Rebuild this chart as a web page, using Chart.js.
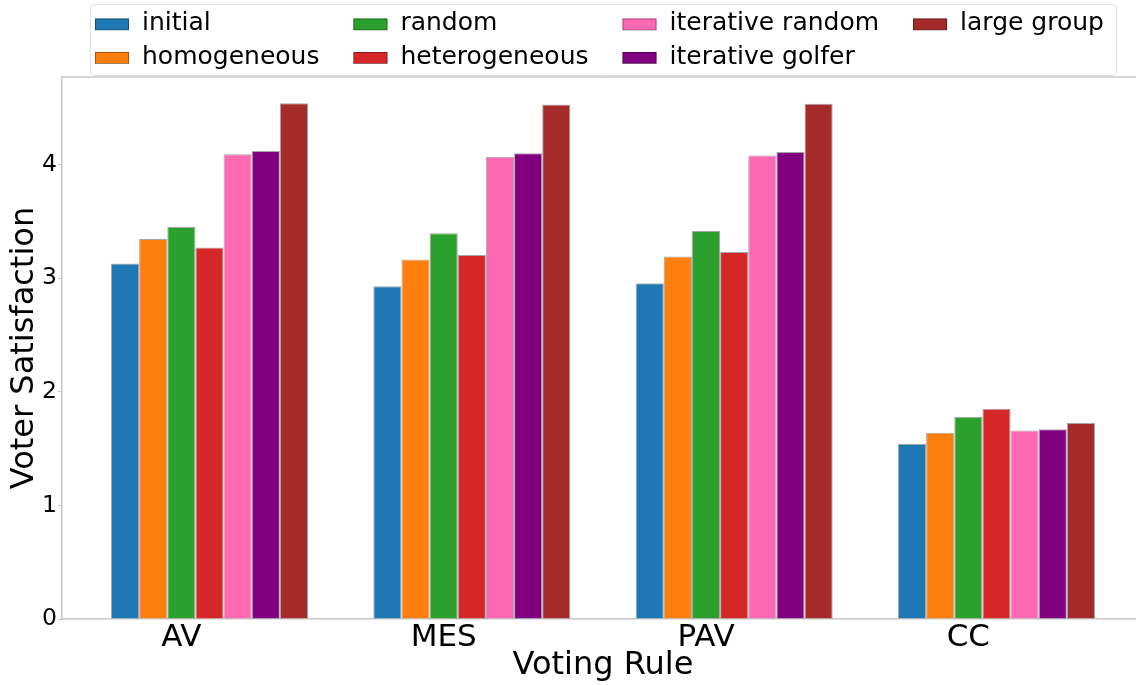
<!DOCTYPE html>
<html>
<head>
<meta charset="utf-8">
<script src="https://cdn.jsdelivr.net/npm/chart.js@4.4.0/dist/chart.umd.min.js"></script>
<style>
html, body { margin: 0; padding: 0; overflow: hidden; background: #fff; }
</style>
</head>
<body>
<canvas id="satisfactionChart" width="1144" height="685"></canvas>
<script>
// voting rules on the x axis
const categories = ['AV', 'MES', 'PAV', 'CC'];

// mean voter satisfaction per rule
const initial = [3.13, 2.93, 2.955, 1.54];
const homogeneous = [3.345, 3.165, 3.19, 1.64];
const random = [3.45, 3.395, 3.415, 1.78];
const heterogeneous = [3.27, 3.205, 3.23, 1.85];
const iterativeRandom = [4.09, 4.07, 4.08, 1.66];
const iterativeGolfer = [4.12, 4.10, 4.11, 1.67];
const largeGroup = [4.54, 4.53, 4.535, 1.725];

const yTicks = [0, 1, 2, 3, 4];

const series = [
    { label: 'initial', values: initial, color: '#1f77b4' },
    { label: 'homogeneous', values: homogeneous, color: '#ff7f0e' },
    { label: 'random', values: random, color: '#2ca02c' },
    { label: 'heterogeneous', values: heterogeneous, color: '#d62728' },
    { label: 'iterative random', values: iterativeRandom, color: '#ff69b4' },
    { label: 'iterative golfer', values: iterativeGolfer, color: '#800080' },
    { label: 'large group', values: largeGroup, color: '#a52a2a' }
];

const groupFraction = 0.751;
const barShift = groupFraction / series.length; // ticks sit under the 3rd bar
const axisGrey = '#c8c8c8';
const edge = 'rgba(0,0,0,0.35)';

Chart.defaults.font.family = "'DejaVu Sans'";
Chart.defaults.color = '#000';

// legend like matplotlib: 4 columns, filled column by column
const columnLegend = {
    id: 'columnLegend',
    afterDraw(chart) {
        const ctx = chart.ctx;
        const items = chart.data.datasets;
        const rows = 2;
        ctx.save();
        ctx.beginPath();
        ctx.roundRect(90.5, 4.5, 1026, 71, 4);
        ctx.fillStyle = 'rgba(255,255,255,0.8)';
        ctx.fill();
        ctx.strokeStyle = '#e0e0e0';
        ctx.lineWidth = 1;
        ctx.stroke();
        ctx.font = "25px 'DejaVu Sans'";
        ctx.textBaseline = 'alphabetic';
        let x = 95;
        for (let c = 0; c < Math.ceil(items.length / rows); c++) {
            let widest = 0;
            for (let r = 0; r < rows; r++) {
                const ds = items[c * rows + r];
                if (!ds) continue;
                const y = 30 + r * 33.5;
                ctx.fillStyle = ds.backgroundColor;
                ctx.fillRect(x, y - 11.5, 34, 11.5);
                ctx.strokeStyle = edge;
                ctx.strokeRect(x + 0.5, y - 11, 33, 11);
                ctx.fillStyle = '#000';
                ctx.fillText(ds.label, x + 47, y);
                widest = Math.max(widest, ctx.measureText(ds.label).width);
            }
            x += 47 + widest + 34;
        }
        ctx.restore();
    }
};

const topSpine = {
    id: 'topSpine',
    afterDraw(chart) {
        const { ctx, chartArea } = chart;
        ctx.save();
        ctx.strokeStyle = axisGrey;
        ctx.lineWidth = 1.5;
        ctx.beginPath();
        ctx.moveTo(chartArea.left, chartArea.top);
        ctx.lineTo(chartArea.right, chartArea.top);
        ctx.stroke();
        ctx.restore();
    }
};

const ctx = document.getElementById('satisfactionChart').getContext('2d');
const satisfactionChart = new Chart(ctx, {
    type: 'bar',
    data: {
        datasets: series.map(s => ({
            label: s.label,
            data: s.values.map((v, i) => ({ x: i, y: v })),
            backgroundColor: s.color,
            borderColor: edge,
            borderWidth: 1
        }))
    },
    options: {
        responsive: false,
        animation: false,
        layout: { padding: { top: 77, right: 0, left: 0, bottom: 0 } },
        datasets: { bar: { categoryPercentage: groupFraction, barPercentage: 1 } },
        plugins: {
            legend: { display: false },
            tooltip: { enabled: false }
        },
        scales: {
            x: {
                type: 'linear',
                offset: false,
                min: -0.5623,
                max: 3.5623,
                afterBuildTicks: s => { s.ticks = categories.map((c, i) => ({ value: i - barShift })); },
                afterFit: s => { s.height = 66; },
                ticks: {
                    callback: (v, i) => categories[i],
                    font: { size: 31 },
                    color: '#000',
                    padding: 0,
                    maxRotation: 0,
                    autoSkip: false
                },
                grid: { offset: false, drawOnChartArea: false, drawTicks: false },
                border: { color: axisGrey, width: 1.5 },
                title: {
                    display: true,
                    text: 'Voting Rule',
                    font: { size: 32 },
                    color: '#000',
                    padding: { top: 0, bottom: 0 }
                }
            },
            y: {
                min: 0,
                max: 4.771,
                afterBuildTicks: s => { s.ticks = yTicks.map(v => ({ value: v })); },
                afterFit: s => { s.width = 62; },
                ticks: { font: { size: 23.5 }, color: '#000', padding: 1 },
                grid: { drawOnChartArea: false, drawTicks: true, tickLength: 4, color: axisGrey },
                border: { color: axisGrey, width: 1.5 },
                title: {
                    display: true,
                    text: 'Voter Satisfaction',
                    font: { size: 32 },
                    color: '#000',
                    padding: { top: 5, bottom: 0 }
                }
            }
        }
    },
    plugins: [columnLegend, topSpine]
});
</script>
</body>
</html>
